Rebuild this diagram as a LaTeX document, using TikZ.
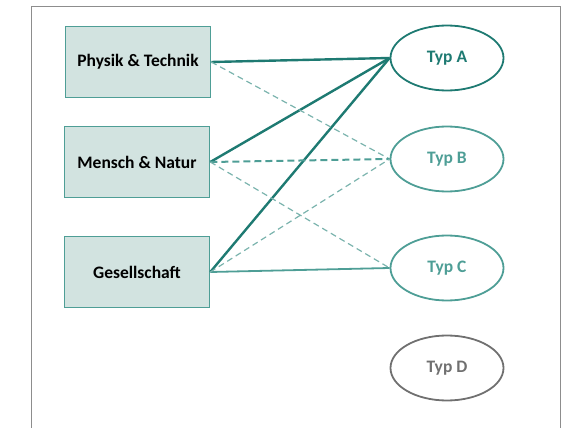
\documentclass[tikz,border=0pt]{standalone}
\usepackage{fontspec}
\setmainfont{Carlito}
\usepackage{tikz}
\usetikzlibrary{arrows.meta, positioning, shapes.geometric}

\definecolor{tealdark}{HTML}{1E7A72}
\definecolor{teallight}{HTML}{4E9E96}
\definecolor{tealdash}{HTML}{7AB3AD}
\definecolor{boxfill}{HTML}{D2E3E0}
\definecolor{typgray}{HTML}{707070}

\begin{document}
\begin{tikzpicture}[
  x=1pt, y=-1pt,
  font=\fontsize{17.5}{20}\selectfont\bfseries,
  field/.style={draw=teallight, fill=boxfill, line width=1.6pt,
                minimum width=145pt, minimum height=71pt, align=center},
  typ/.style={ellipse, draw, line width=1.8pt, minimum width=113pt,
              minimum height=65pt, inner sep=0pt},
  strong/.style={tealdark, line width=2.4pt},
  medium/.style={teallight, line width=1.8pt},
  weak/.style={tealdash, line width=1.2pt, dash pattern=on 6pt off 4pt},
  halfweak/.style={teallight, line width=2pt, dash pattern=on 7pt off 4pt}
]
  \useasboundingbox (0,0) rectangle (563,428);
  \draw[typgray!80, line width=1pt] (31,430) -- (31,7) -- (560,7) -- (560,430);

  \node[field] (pt) at (138,62) {Physik \& Technik};
  \node[field] (mn) at (137,162) {Mensch \& Natur};
  \node[field] (gs) at (137,272) {Gesellschaft};

  \node[typ, draw=tealdark, text=tealdark] (ta) at (447,58) {Typ A};
  \node[typ, draw=teallight, text=teallight] (tb) at (447,159) {Typ B};
  \node[typ, draw=teallight, text=teallight] (tc) at (447,268) {Typ C};
  \node[typ, draw=typgray, text=typgray] (td) at (447,368) {Typ D};

  % solid links
  \draw[strong] (pt.east) -- (ta.west);
  \draw[strong] (mn.east) -- (ta.west);
  \draw[strong] (gs.east) -- (ta.west);
  \draw[medium] (gs.east) -- (tc.west);

  % dashed links
  \draw[weak] (pt.east) -- (tb.west);
  \draw[halfweak] (mn.east) -- (tb.west);
  \draw[weak] (mn.east) -- (tc.west);
  \draw[weak] (gs.east) -- (tb.west);
\end{tikzpicture}
\end{document}
